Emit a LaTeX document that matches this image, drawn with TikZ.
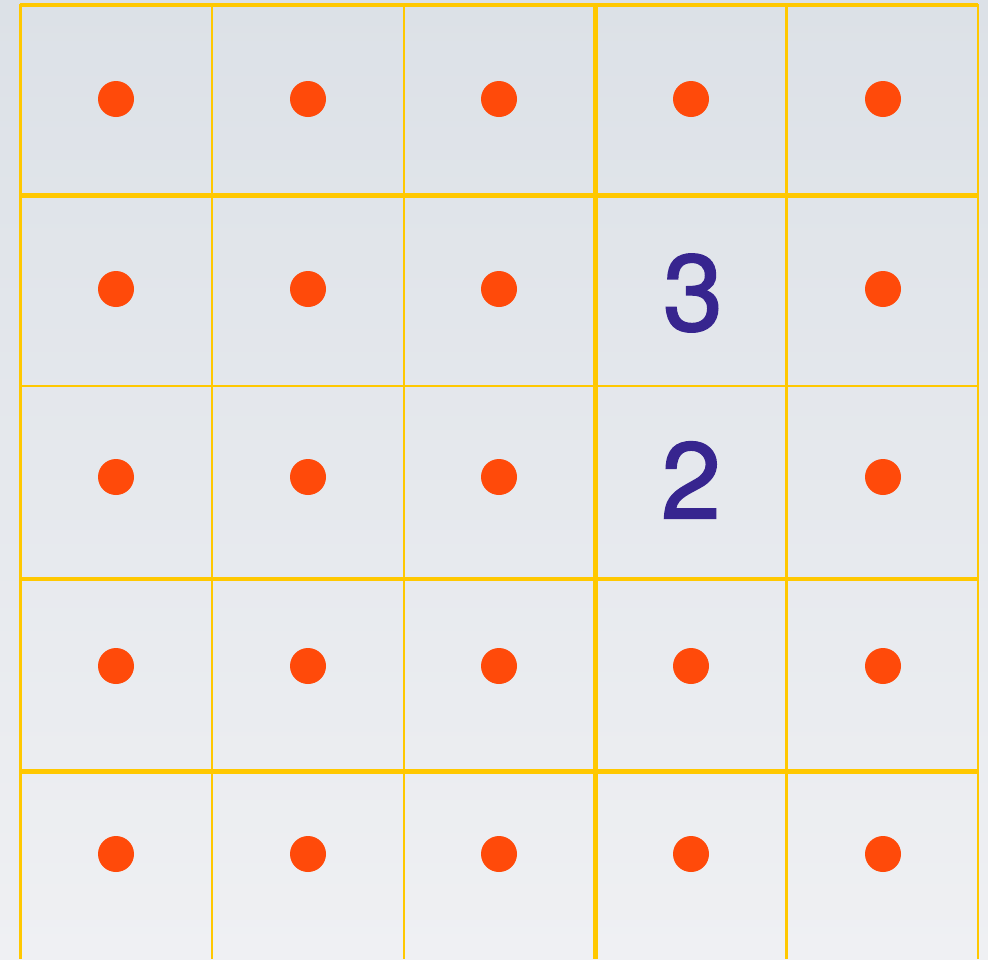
\documentclass[tikz,border=0pt]{standalone}
\usepackage{fontspec}
\setmainfont{TeX Gyre Heros}
\newfontfamily\numfont[FakeBold=1.6]{TeX Gyre Heros}
\definecolor{gridc}{HTML}{FFC800}
\definecolor{dotc}{HTML}{FF4A0A}
\definecolor{numc}{HTML}{37258F}
\definecolor{bgtop}{HTML}{DCE1E7}
\definecolor{bgbot}{HTML}{EFF0F3}
\begin{document}
\begin{tikzpicture}[x=0.5pt,y=-0.5pt,
  dotmark/.style={circle,fill=dotc,inner sep=0pt,minimum size=18pt},
  numlabel/.style={text=numc,font=\numfont\fontsize{54}{54}\selectfont,inner sep=0pt},
  thinline/.style={draw=gridc,line width=1.1pt},
  thickline/.style={draw=gridc,line width=2.1pt}]
\useasboundingbox (0,0) rectangle (988,959);
\shade[top color=bgtop,bottom color=bgbot] (0,0) rectangle (988,959);
% horizontal lines
\draw[thickline] (20,5) -- (978,5);
\draw[thickline] (20,195.5) -- (978,195.5);
\draw[draw=gridc,line width=1.4pt] (20,386) -- (978,386);
\draw[thickline] (20,579) -- (978,579);
\draw[thickline] (20,771.5) -- (978,771.5);
% vertical lines
\draw[thinline] (20.5,4) -- (20.5,959);
\draw[thinline] (212,4) -- (212,959);
\draw[thinline] (404,4) -- (404,959);
\draw[thickline] (595.5,4) -- (595.5,959);
\draw[thinline] (786.5,4) -- (786.5,959);
\draw[thinline] (978,4) -- (978,959);
% dots
\foreach \y [count=\r] in {99,289,477,666,854}{
  \foreach \x [count=\c] in {116,308,499,691,883}{
    \ifnum\c=4
      \ifnum\r=2\relax\else\ifnum\r=3\relax\else
        \node[dotmark] (d-\r-\c) at (\x,\y) {};
      \fi\fi
    \else
      \node[dotmark] (d-\r-\c) at (\x,\y) {};
    \fi
  }
}
\node[numlabel] (n3) at (693,293) {3};
\node[numlabel] (n2) at (691,480) {2};
\end{tikzpicture}
\end{document}
